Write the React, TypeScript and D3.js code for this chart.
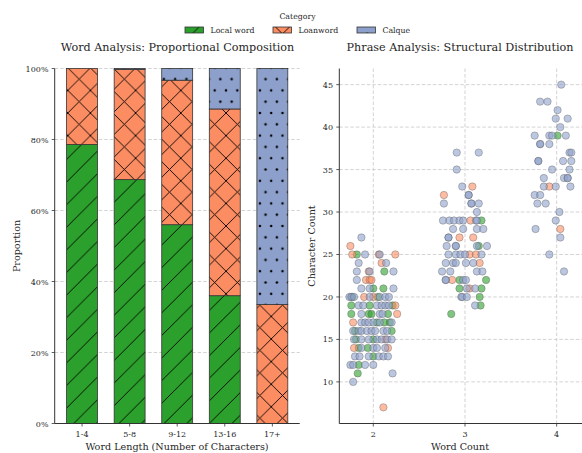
import React from 'react';
import { scaleBand, scaleLinear } from 'd3';

// --- left panel: share of each category per word length bin
const lengthBins = ['1-4', '5-8', '9-12', '13-16', '17+'];
const localShare = [0.786, 0.687, 0.56, 0.36, 0];
const loanShare = [0.214, 0.31, 0.407, 0.526, 0.335];
const calqueShare = [0, 0.003, 0.033, 0.114, 0.665];
const shareTicks = [0, 0.2, 0.4, 0.6, 0.8, 1];

// --- right panel: [word count (jittered), character count]
const localPoints = [
  [1.82, 25], [2.12, 23], [2.0, 21], [2.11, 21], [1.77, 20], [2.05, 20],
  [1.76, 19], [1.96, 19], [2.21, 19], [1.76, 18], [1.95, 18], [1.98, 18], [2.16, 18],
  [2.04, 17], [2.12, 17], [2.18, 17], [1.8, 16], [2.2, 16], [1.81, 15], [2.0, 15],
  [1.84, 14], [1.94, 14], [2.0, 13], [1.84, 12], [1.83, 11],
  [3.18, 29], [3.15, 26], [2.94, 22], [3.23, 22], [2.94, 21], [3.18, 21],
  [3.16, 20], [3.17, 19], [2.85, 18],
  [4.01, 39],
];
const loanPoints = [
  [1.75, 26], [1.77, 25], [2.06, 25], [2.24, 25], [2.09, 24], [1.95, 23],
  [1.92, 22], [1.96, 22], [1.98, 22], [1.9, 20], [2.0, 20], [2.24, 19], [2.26, 18],
  [1.78, 17], [2.13, 15], [1.79, 14], [2.16, 14], [2.11, 7],
  [3.08, 33], [2.77, 32], [3.06, 29], [2.94, 27], [3.09, 27], [3.05, 25], [3.12, 25],
  [3.16, 24], [2.86, 22], [3.05, 21],
  [3.92, 33], [4.04, 28],
];
const calquePoints = [
  [1.87, 27], [1.91, 25], [2.07, 25], [1.84, 24], [2.14, 24], [1.82, 23], [1.96, 23], [2.22, 23],
  [1.82, 22], [1.87, 21], [1.96, 21], [2.22, 21],
  [1.74, 20], [1.76, 20], [1.79, 20], [1.96, 20], [2.07, 20], [2.13, 20], [2.17, 20],
  [1.84, 19], [1.89, 19], [2.04, 19], [2.09, 19], [2.13, 19], [2.17, 19],
  [1.87, 18], [2.07, 18], [2.1, 18],
  [1.87, 17], [1.91, 17], [1.95, 17], [2.0, 17], [2.07, 17], [2.2, 17],
  [1.78, 16], [1.84, 16], [1.87, 16], [1.93, 16], [1.98, 16], [2.02, 16], [2.11, 16], [2.15, 16],
  [1.79, 15], [1.87, 15], [1.95, 15], [2.04, 15], [2.09, 15], [2.15, 15], [2.2, 15],
  [1.87, 14], [2.0, 14], [2.04, 14], [2.13, 14],
  [1.8, 13], [1.85, 13], [1.95, 13], [2.06, 13], [2.11, 13], [2.16, 13],
  [1.75, 12], [1.78, 12], [1.91, 12], [2.0, 12], [2.21, 11], [1.78, 10],
  [2.91, 37], [3.15, 37], [2.91, 35], [2.97, 33], [3.04, 32], [3.04, 32],
  [2.77, 31], [3.07, 31], [3.07, 31], [3.15, 31], [3.13, 30],
  [2.76, 29], [2.83, 29], [2.88, 29], [2.94, 29], [2.98, 29], [3.12, 29], [3.13, 29],
  [2.87, 28], [2.98, 28], [3.13, 28], [3.2, 28], [2.82, 27], [2.82, 27],
  [2.8, 26], [2.9, 26], [2.9, 26], [3.13, 26], [3.24, 26],
  [2.82, 25], [2.9, 25], [2.95, 25], [3.0, 25], [3.18, 25],
  [2.79, 24], [2.87, 24], [2.9, 24], [3.01, 24], [3.09, 24],
  [2.75, 23], [2.84, 23], [3.13, 23], [3.19, 23],
  [2.79, 22], [2.79, 22], [2.98, 22], [3.01, 22], [3.02, 21], [3.11, 21],
  [2.96, 20], [2.97, 20], [3.02, 20], [3.11, 19],
  [4.05, 45], [3.82, 43], [3.9, 43], [4.01, 42], [3.99, 41], [4.12, 41], [4.04, 40],
  [3.76, 39], [3.92, 39], [3.95, 39], [4.1, 39], [3.82, 38], [3.82, 38], [3.92, 38],
  [4.14, 37], [4.16, 37], [3.8, 36], [3.8, 36], [4.07, 36], [4.16, 36],
  [3.95, 35], [4.14, 35], [3.86, 34], [4.08, 34], [4.12, 34], [4.12, 34],
  [3.86, 33], [3.99, 33], [4.15, 33], [3.76, 32], [3.82, 32], [3.79, 31], [3.88, 31],
  [4.03, 30], [3.99, 29], [3.77, 28], [4.04, 27], [3.92, 25], [4.08, 23],
];
const wordTicks = [2, 3, 4];
const charTicks = [10, 15, 20, 25, 30, 35, 40, 45];

const categories = ['Local word', 'Loanword', 'Calque'];
const colors = ['#2ca02c', '#fc8d62', '#8da0cb'];

const FONT = '"DejaVu Serif", serif';
const D = 11.3; // dot spacing
const L = 22.6; // line hatch period

function Patterns() {
  const diag = `M-2,2 l4,-4 M0,${L} l${L},${-L} M${L - 2},${L + 2} l4,-4`;
  const back = `M-2,${L - 2} l4,4 M0,0 l${L},${L} M${L - 2},-2 l4,4`;
  return (
    <defs>
      <pattern id="h-local" patternUnits="userSpaceOnUse" width={L} height={L}>
        <rect width={L} height={L} fill={colors[0]} />
        <path d={diag} stroke="#000" strokeWidth={0.9} />
      </pattern>
      <pattern id="h-loan" patternUnits="userSpaceOnUse" width={L} height={L}>
        <rect width={L} height={L} fill={colors[1]} />
        <path d={diag + ' ' + back} stroke="#000" strokeWidth={0.9} />
      </pattern>
      <pattern id="h-calque" patternUnits="userSpaceOnUse" width={D} height={2 * D}>
        <rect width={D} height={2 * D} fill={colors[2]} />
        {[[0, 0], [D, 0], [0, 2 * D], [D, 2 * D], [D / 2, D]].map(([cx, cy], i) => (
          <circle key={i} cx={cx} cy={cy} r={1.25} fill="#000" />
        ))}
      </pattern>
    </defs>
  );
}

const fills = ['url(#h-local)', 'url(#h-loan)', 'url(#h-calque)'];

export default function App() {
  const top = 68.5;
  const bottom = 423.5;

  // left panel scales
  const xBand = scaleBand<string>().domain(lengthBins).range([54.7, 299.7]).paddingInner(0.35).paddingOuter(0.25);
  const yShare = scaleLinear().domain([0, 1]).range([bottom, top]);

  // right panel scales
  const xWord = scaleLinear().domain([1.629, 4.38]).range([339.3, 591.5]);
  const yChar = scaleLinear().domain([5.1, 46.9]).range([bottom, top]);

  const stacks = lengthBins.map((bin, i) => {
    const parts = [localShare[i], loanShare[i], calqueShare[i]];
    let acc = 0;
    return parts.map((v, k) => {
      const y0 = acc;
      acc += v;
      return { bin, k, y0, y1: acc };
    });
  });

  const grid = { stroke: '#c8c8c8', strokeWidth: 0.8, strokeDasharray: '3.5,2' };
  const axisColor = '#333';
  const textColor = '#262626';
  const tickSize = 8;
  const labelSize = 9.6;
  const titleSize = 11.2;
  const legendSize = 7.8;

  return (
    <svg width={582} height={453} style={{ display: 'block', position: 'absolute', left: 0, top: 0, background: '#fff' }} fontFamily={FONT}>
      <Patterns />

      {/* legend */}
      <text x={297.5} y={18.5} textAnchor="middle" fontSize={legendSize} fill={textColor}>Category</text>
      {categories.map((c, i) => {
        const px = [185, 273, 357][i];
        return (
          <g key={c}>
            <rect x={px} y={27} width={18.5} height={6} fill={fills[i]} stroke="#333" strokeWidth={0.8} />
            <text x={px + 25.5} y={33} fontSize={legendSize} fill={textColor}>{c}</text>
          </g>
        );
      })}

      {/* left panel */}
      <text x={177.5} y={50.5} textAnchor="middle" fontSize={titleSize} fill={textColor}>Word Analysis: Proportional Composition</text>
      {shareTicks.map(t => (
        <line key={t} x1={54.7} x2={299.7} y1={yShare(t)} y2={yShare(t)} {...grid} />
      ))}
      {stacks.flat().filter(s => s.y1 - s.y0 > 0).map(s => (
        <rect key={s.bin + s.k} x={xBand(s.bin)} width={xBand.bandwidth()}
          y={yShare(s.y1)} height={yShare(s.y0) - yShare(s.y1)}
          fill={fills[s.k]} stroke="#333" strokeWidth={0.8} />
      ))}
      <line x1={54.7} x2={54.7} y1={top} y2={bottom} stroke={axisColor} strokeWidth={1} />
      <line x1={54.7} x2={299.7} y1={bottom} y2={bottom} stroke={axisColor} strokeWidth={1} />
      {shareTicks.map(t => (
        <g key={t}>
          <line x1={51.7} x2={54.7} y1={yShare(t)} y2={yShare(t)} stroke={axisColor} strokeWidth={0.8} />
          <text x={48.5} y={yShare(t) + 3} textAnchor="end" fontSize={tickSize} fill={textColor}>{Math.round(t * 100)}%</text>
        </g>
      ))}
      {lengthBins.map(b => {
        const cx = (xBand(b) as number) + xBand.bandwidth() / 2;
        return (
          <g key={b}>
            <line x1={cx} x2={cx} y1={bottom} y2={bottom + 3} stroke={axisColor} strokeWidth={0.8} />
            <text x={cx} y={436.5} textAnchor="middle" fontSize={tickSize} fill={textColor}>{b}</text>
          </g>
        );
      })}
      <text x={177} y={449.5} textAnchor="middle" fontSize={labelSize} fill={textColor}>Word Length (Number of Characters)</text>
      <text transform={`translate(20,246) rotate(-90)`} textAnchor="middle" fontSize={labelSize} fill={textColor}>Proportion</text>

      {/* right panel */}
      <text x={460} y={50.5} textAnchor="middle" fontSize={titleSize} fill={textColor}>Phrase Analysis: Structural Distribution</text>
      {charTicks.map(t => (
        <line key={t} x1={339.3} x2={591.5} y1={yChar(t)} y2={yChar(t)} {...grid} />
      ))}
      {wordTicks.map(t => (
        <line key={t} x1={xWord(t)} x2={xWord(t)} y1={top} y2={bottom} {...grid} />
      ))}
      {[localPoints, loanPoints, calquePoints].map((pts, k) => (
        <g key={k}>
          {pts.map(([w, c], i) => (
            <circle key={i} cx={xWord(w)} cy={yChar(c)} r={3.7}
              fill={colors[k]} fillOpacity={0.6} stroke="#555" strokeOpacity={0.6} strokeWidth={0.6} />
          ))}
        </g>
      ))}
      <line x1={339.3} x2={339.3} y1={top} y2={bottom} stroke={axisColor} strokeWidth={1} />
      <line x1={339.3} x2={591.5} y1={bottom} y2={bottom} stroke={axisColor} strokeWidth={1} />
      {charTicks.map(t => (
        <g key={t}>
          <line x1={336.3} x2={339.3} y1={yChar(t)} y2={yChar(t)} stroke={axisColor} strokeWidth={0.8} />
          <text x={333} y={yChar(t) + 3} textAnchor="end" fontSize={tickSize} fill={textColor}>{t}</text>
        </g>
      ))}
      {wordTicks.map(t => (
        <g key={t}>
          <line x1={xWord(t)} x2={xWord(t)} y1={bottom} y2={bottom + 3} stroke={axisColor} strokeWidth={0.8} />
          <text x={xWord(t)} y={436.5} textAnchor="middle" fontSize={tickSize} fill={textColor}>{t}</text>
        </g>
      ))}
      <text x={460} y={449.5} textAnchor="middle" fontSize={labelSize} fill={textColor}>Word Count</text>
      <text transform={`translate(315,246) rotate(-90)`} textAnchor="middle" fontSize={labelSize} fill={textColor}>Character Count</text>
    </svg>
  );
}
